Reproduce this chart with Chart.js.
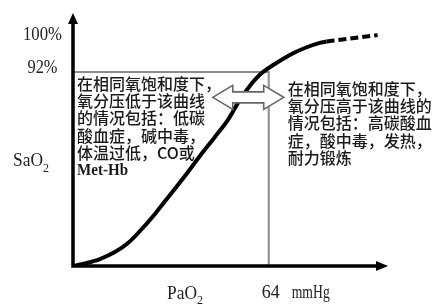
<!DOCTYPE html>
<html><head><meta charset="utf-8">
<script src="https://cdn.jsdelivr.net/npm/chart.js@4.4.0/dist/chart.umd.min.js"></script>
<style>html,body{margin:0;padding:0;background:#fff;}canvas{display:block;}</style>
</head><body>
<canvas id="c" width="438" height="305"></canvas>
<script>
// ---- data ----
const curvePaO2 = [0, 3.9, 8.8, 13.7, 18.0, 21.9, 26.8, 31.7, 36.6, 41.5, 46.4, 50.6, 54.5, 57.8, 61.7, 66.0, 70.9, 75.8, 80.7, 82.9];
const curveSaO2 = [0, 1.2, 3.3, 6.6, 10.9, 16.6, 24.7, 33.7, 42.7, 52.2, 61.2, 69.2, 78.7, 85.4, 91.5, 95.8, 100.1, 103.4, 105.8, 106.5];
const dashPaO2 = [82.9, 90.4, 99.6];
const dashSaO2 = [106.5, 107.9, 109.5];
const yTickValues = [108, 92];
const yTickLabels = ['100%', '92%'];
const markPaO2 = 64;
const markSaO2 = 92;
const xMarkLabel = ['64', 'mmHg'];
const xAxisTitle = ['PaO', '2'];
const yAxisTitle = ['SaO', '2'];
const leftNote = ['在相同氧饱和度下，', '氧分压低于该曲线', '的情况包括：低碳', '酸血症，碱中毒，', '体温过低，CO或', 'Met-Hb'];
const rightNote = ['在相同氧饱和度下，', '氧分压高于该曲线的', '情况包括：高碳酸血', '症，酸中毒，发热，', '耐力锻炼'];
const arrowRange = [45.7, 68.9];
const arrowLevel = 80;
const X_MAX = 103, Y_MAX = 120;

const toPts = (xs, ys) => xs.map((x, i) => ({x, y: ys[i]}));

const deco = {
  id: 'deco',
  beforeDatasetsDraw(chart) {
    const {ctx, scales: {x, y}} = chart;
    ctx.save();
    ctx.strokeStyle = '#8c8c8c';
    ctx.lineWidth = 2;
    ctx.beginPath();
    ctx.moveTo(x.getPixelForValue(0), y.getPixelForValue(markSaO2));
    ctx.lineTo(x.getPixelForValue(markPaO2), y.getPixelForValue(markSaO2));
    ctx.lineTo(x.getPixelForValue(markPaO2), y.getPixelForValue(0));
    ctx.stroke();
    ctx.restore();
  },
  afterDatasetsDraw(chart) {
    const {ctx, scales: {x, y}} = chart;
    const x0 = x.getPixelForValue(0), y0 = y.getPixelForValue(0);
    const xEnd = x.getPixelForValue(X_MAX), yEnd = y.getPixelForValue(Y_MAX);
    ctx.save();
    // axes
    ctx.strokeStyle = '#000'; ctx.fillStyle = '#000'; ctx.lineWidth = 3.5;
    ctx.beginPath();
    ctx.moveTo(x0, yEnd + 8); ctx.lineTo(x0, y0); ctx.lineTo(xEnd - 8, y0);
    ctx.stroke();
    ctx.beginPath();
    ctx.moveTo(x0, yEnd); ctx.lineTo(x0 - 5, yEnd + 11); ctx.lineTo(x0 + 5, yEnd + 11); ctx.closePath(); ctx.fill();
    ctx.beginPath();
    ctx.moveTo(xEnd, y0); ctx.lineTo(xEnd - 12, y0 - 5); ctx.lineTo(xEnd - 12, y0 + 5); ctx.closePath(); ctx.fill();

    // double arrow
    const ax1 = x.getPixelForValue(arrowRange[0]), ax2 = x.getPixelForValue(arrowRange[1]);
    const ay = y.getPixelForValue(arrowLevel);
    const hl = 20, hh = 12, sh = 5.5;
    ctx.beginPath();
    ctx.moveTo(ax1, ay);
    ctx.lineTo(ax1 + hl, ay - hh); ctx.lineTo(ax1 + hl, ay - sh);
    ctx.lineTo(ax2 - hl, ay - sh); ctx.lineTo(ax2 - hl, ay - hh);
    ctx.lineTo(ax2, ay);
    ctx.lineTo(ax2 - hl, ay + hh); ctx.lineTo(ax2 - hl, ay + sh);
    ctx.lineTo(ax1 + hl, ay + sh); ctx.lineTo(ax1 + hl, ay + hh);
    ctx.closePath();
    ctx.fillStyle = '#fff'; ctx.fill();
    ctx.strokeStyle = '#666'; ctx.lineWidth = 1.6; ctx.stroke();

    // texts
    ctx.fillStyle = '#1a1a1a';
    ctx.textBaseline = 'middle';
    ctx.textAlign = 'left';
    const cjk = '500 16px "Noto Sans CJK SC"';
    const yl = y.getPixelForValue(markSaO2);
    leftNote.forEach((t, i) => {
      if (t === 'Met-Hb') { ctx.font = 'bold 17px "Liberation Serif"'; ctx.fillText(t, x0 + 4, yl + 11.5 + i * 17.4, 51); }
      else { ctx.font = cjk; ctx.fillText(t, x0 + 4, yl + 11.5 + i * 17.4); }
    });
    const xr = x.getPixelForValue(markPaO2);
    ctx.font = cjk;
    rightNote.forEach((t, i) => ctx.fillText(t, xr + 19, yl + 16.5 + i * 17.4));

    // y tick labels
    ctx.fillStyle = '#222';
    ctx.font = '18px "Liberation Serif"';
    ctx.textAlign = 'center';
    yTickValues.forEach((v, i) => {
      const w = yTickLabels[i].length === 4 ? 39 : 30;
      ctx.fillText(yTickLabels[i], 42.5, y.getPixelForValue(v) - 3.5, w);
    });
    // x mark label
    ctx.textAlign = 'left';
    ctx.fillText(xMarkLabel[0], xr - 7, y0 + 27, 18);
    ctx.fillText(xMarkLabel[1], xr + 23, y0 + 27, 38);
    // axis titles
    ctx.font = '18px "Liberation Serif"';
    ctx.fillText(yAxisTitle[0], 13, 161, 30);
    ctx.font = '12px "Liberation Serif"';
    ctx.fillText(yAxisTitle[1], 43, 169);
    ctx.font = '18px "Liberation Serif"';
    ctx.fillText(xAxisTitle[0], 167, 294, 30);
    ctx.font = '12px "Liberation Serif"';
    ctx.fillText(xAxisTitle[1], 197, 301);
    ctx.restore();
  }
};

new Chart(document.getElementById('c'), {
  type: 'line',
  data: {
    datasets: [
      { data: toPts(curvePaO2, curveSaO2), borderColor: '#000', borderWidth: 4, pointRadius: 0, cubicInterpolationMode: 'monotone', fill: false },
      { data: toPts(dashPaO2, dashSaO2), borderColor: '#000', borderWidth: 4, borderDash: [8, 4], pointRadius: 0, cubicInterpolationMode: 'monotone', fill: false }
    ]
  },
  options: {
    responsive: false,
    animation: false,
    devicePixelRatio: 1,
    layout: { padding: { left: 73, right: 50, top: 13, bottom: 39 } },
    plugins: { legend: { display: false }, tooltip: { enabled: false } },
    scales: {
      x: { type: 'linear', min: 0, max: X_MAX, display: false },
      y: { type: 'linear', min: 0, max: Y_MAX, display: false }
    }
  },
  plugins: [deco]
});
</script>
</body></html>
